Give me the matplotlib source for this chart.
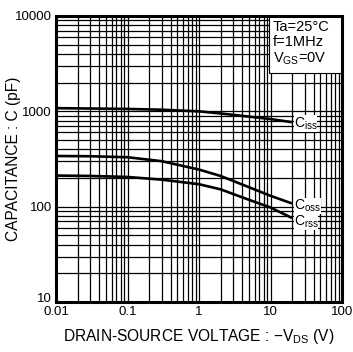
import matplotlib
matplotlib.use("Agg")
import matplotlib.pyplot as plt
import matplotlib.transforms as mtransforms
from matplotlib.patches import Rectangle
from matplotlib.ticker import LogLocator, NullFormatter, FixedLocator, FixedFormatter

plt.rcParams['font.family'] = ['Liberation Sans', 'DejaVu Sans']
plt.rcParams['mathtext.fontset'] = 'custom'
plt.rcParams['mathtext.rm'] = 'Liberation Sans'
plt.rcParams['mathtext.it'] = 'Liberation Sans'

vds = [0.01, 0.03, 0.1, 0.3, 1, 2, 5, 10, 20]
ciss = [1080, 1070, 1060, 1040, 1000, 950, 880, 830, 770]
coss = [340, 338, 330, 300, 245, 210, 160, 130, 108]
crss = [212, 210, 205, 192, 172, 152, 118, 98, 76]

xticks = [0.01, 0.1, 1, 10, 100]
xlabels = ['0.01', '0.1', '1', '10', '100']
yticks = [10, 100, 1000, 10000]
ylabels = ['10', '100', '1000', '10000']

fig = plt.figure(figsize=(3.53, 3.52), dpi=100)
ax = fig.add_axes([56/353, 50/352, 286/353, 286/352])
ax.set_xscale('log')
ax.set_yscale('log')
ax.set_xlim(0.01, 100)
ax.set_ylim(10, 10000)

ax.xaxis.set_major_locator(FixedLocator(xticks))
ax.xaxis.set_major_formatter(FixedFormatter(xlabels))
ax.yaxis.set_major_locator(FixedLocator(yticks))
ax.yaxis.set_major_formatter(FixedFormatter(ylabels))
ax.xaxis.set_minor_locator(LogLocator(base=10, subs=range(2, 10)))
ax.yaxis.set_minor_locator(LogLocator(base=10, subs=range(2, 10)))
ax.xaxis.set_minor_formatter(NullFormatter())
ax.yaxis.set_minor_formatter(NullFormatter())
ax.grid(True, which='both', color='black', linewidth=0.9)
ax.tick_params(which='both', length=0, labelsize=9.5, pad=3)
ax.set_axisbelow(True)
for s in ax.spines.values():
    s.set_linewidth(2.2)
    s.set_zorder(10)

# lift the bottom y label slightly so it clears "0.01"
lbl = ax.yaxis.get_major_ticks()[0].label1
lbl.set_transform(lbl.get_transform() + mtransforms.ScaledTranslation(0, 3/72, fig.dpi_scale_trans))

for arr in (ciss, coss, crss):
    ax.plot(vds, arr, color='black', linewidth=1.9, solid_capstyle='butt')

bb = dict(facecolor='white', edgecolor='none', pad=0.0)
ax.text(21, 745, r'C$\mathregular{_{iss}}$', fontsize=10, va='center', ha='left', bbox=bb)
ax.text(21, 101, r'C$\mathregular{_{oss}}$', fontsize=10, va='center', ha='left', bbox=bb)
ax.text(21, 70, r'C$\mathregular{_{rss}}$', fontsize=10, va='center', ha='left', bbox=bb)

ax.add_patch(Rectangle((0.745, 0.80), 0.255, 0.20, transform=ax.transAxes,
                       facecolor='white', edgecolor='black', linewidth=0.8, zorder=5))
ax.text(0.758, 0.985, 'Ta=25°C\nf=1MHz\n' + r'V$\mathregular{_{GS}}$=0V', transform=ax.transAxes,
        fontsize=10.5, va='top', ha='left', linespacing=1.1, zorder=6)

ax.set_xlabel(r'DRAIN-SOURCE VOLTAGE : $-$V$\mathregular{_{DS}}$ (V)', fontsize=11.2)
ax.set_ylabel('CAPACITANCE : C (pF)', fontsize=11.2)
ax.xaxis.set_label_coords(0.5, -0.119)
ax.xaxis.label.set_va('center')
ax.yaxis.set_label_coords(-0.147, 0.5)
ax.yaxis.label.set_va('center')

fig.savefig('out.png', dpi=100)
